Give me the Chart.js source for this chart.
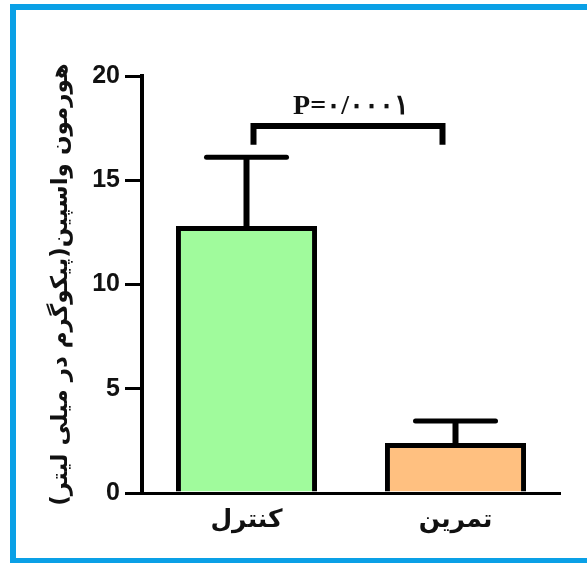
<!DOCTYPE html>
<html>
<head>
<meta charset="utf-8">
<script src="https://cdn.jsdelivr.net/npm/chart.js@4.4.1/dist/chart.umd.min.js"></script>
<style>
  html, body { margin: 0; padding: 0; background: #fff; }
  #wrap { position: relative; width: 587px; height: 563px; }
</style>
</head>
<body>
<div id="wrap"><canvas id="c" width="587" height="563"></canvas></div>
<script>
// Group labels, means and upper error values (pg/ml)
const categories = ['کنترل', 'تمرین'];
const means = [12.8, 2.4];
const errorTops = [16.1, 3.45];
const barColors = ['#a0fb9c', '#ffc080'];
const yTicks = [0, 5, 10, 15, 20];
const pLabel = 'P=۰/۰۰۰۱';
const yTitle = 'هورمون واسپین(پیکوگرم در میلی لیتر)';

// Blue frame around the figure
const framePlugin = {
  id: 'frame',
  beforeDraw(chart) {
    const ctx = chart.ctx;
    ctx.save();
    ctx.fillStyle = '#0aa0e6';
    ctx.fillRect(10, 4, chart.width - 10, 6);
    ctx.fillRect(10, 4, 6, chart.height - 4);
    ctx.fillRect(10, chart.height - 5, chart.width - 10, 5);
    ctx.restore();
  }
};

// Error bars (upper only) and the significance bracket
const annotatePlugin = {
  id: 'annotate',
  afterDatasetsDraw(chart) {
    const ctx = chart.ctx;
    const y = chart.scales.y;
    const meta = chart.getDatasetMeta(0);
    ctx.save();
    ctx.strokeStyle = '#000';
    ctx.lineCap = 'butt';
    meta.data.forEach((bar, i) => {
      const x = bar.x;
      const yMean = y.getPixelForValue(means[i]);
      const yTop = y.getPixelForValue(errorTops[i]);
      ctx.lineWidth = 6;
      ctx.beginPath();
      ctx.moveTo(x, yMean + 2);
      ctx.lineTo(x, yTop);
      ctx.stroke();
      ctx.lineWidth = 5;
      ctx.lineCap = 'round';
      ctx.beginPath();
      ctx.moveTo(x - 40, yTop);
      ctx.lineTo(x + 40, yTop);
      ctx.stroke();
      ctx.lineCap = 'butt';
    });
    // bracket between the two groups
    const xL = meta.data[0].x + 7;
    const xR = meta.data[1].x - 13;
    const yB = y.getPixelForValue(17.6);
    const yLeg = y.getPixelForValue(16.7);
    ctx.lineWidth = 6;
    ctx.lineJoin = 'miter';
    ctx.beginPath();
    ctx.moveTo(xL, yLeg);
    ctx.lineTo(xL, yB);
    ctx.lineTo(xR, yB);
    ctx.lineTo(xR, yLeg);
    ctx.stroke();
    ctx.fillStyle = '#111';
    ctx.font = 'bold 28px "Liberation Serif", "DejaVu Serif", serif';
    ctx.textAlign = 'center';
    ctx.textBaseline = 'alphabetic';
    ctx.fillText(pLabel, (xL + xR) / 2 + 3, yB - 12);
    ctx.restore();
  }
};

new Chart(document.getElementById('c'), {
  type: 'bar',
  data: {
    labels: categories,
    datasets: [{
      data: means,
      backgroundColor: barColors,
      borderColor: '#000',
      borderWidth: 5,
      borderSkipped: 'start',
      barPercentage: 0.675,
      categoryPercentage: 1
    }]
  },
  options: {
    responsive: false,
    animation: false,
    devicePixelRatio: 1,
    layout: { padding: { left: 0, top: 76, right: 27, bottom: 0 } },
    plugins: { legend: { display: false }, tooltip: { enabled: false }, title: { display: false } },
    scales: {
      x: {
        afterFit(scale) { scale.height = 70; },
        grid: { display: true, drawOnChartArea: false, drawTicks: false },
        border: { display: true, color: '#000', width: 3 },
        ticks: {
          color: '#111',
          padding: 12,
          font: { family: '"DejaVu Sans", sans-serif', size: 25, weight: 'bold' }
        }
      },
      y: {
        min: 0,
        max: 20,
        afterFit(scale) { scale.width = 142; },
        afterBuildTicks(scale) { scale.ticks = yTicks.map(v => ({ value: v })); },
        grid: { display: true, drawOnChartArea: false, drawTicks: true, tickLength: 17, color: '#000', lineWidth: 3 },
        border: { display: true, color: '#000', width: 4 },
        ticks: {
          color: '#111',
          padding: 5,
          font: { family: '"Liberation Sans", Arial, sans-serif', size: 25, weight: 'bold' }
        },
        title: {
          display: true,
          text: yTitle,
          color: '#111',
          padding: { top: 50, bottom: 0 },
          font: { family: '"DejaVu Sans", sans-serif', size: 23, weight: 'bold', lineHeight: 1 }
        }
      }
    }
  },
  plugins: [framePlugin, annotatePlugin]
});
</script>
</body>
</html>
